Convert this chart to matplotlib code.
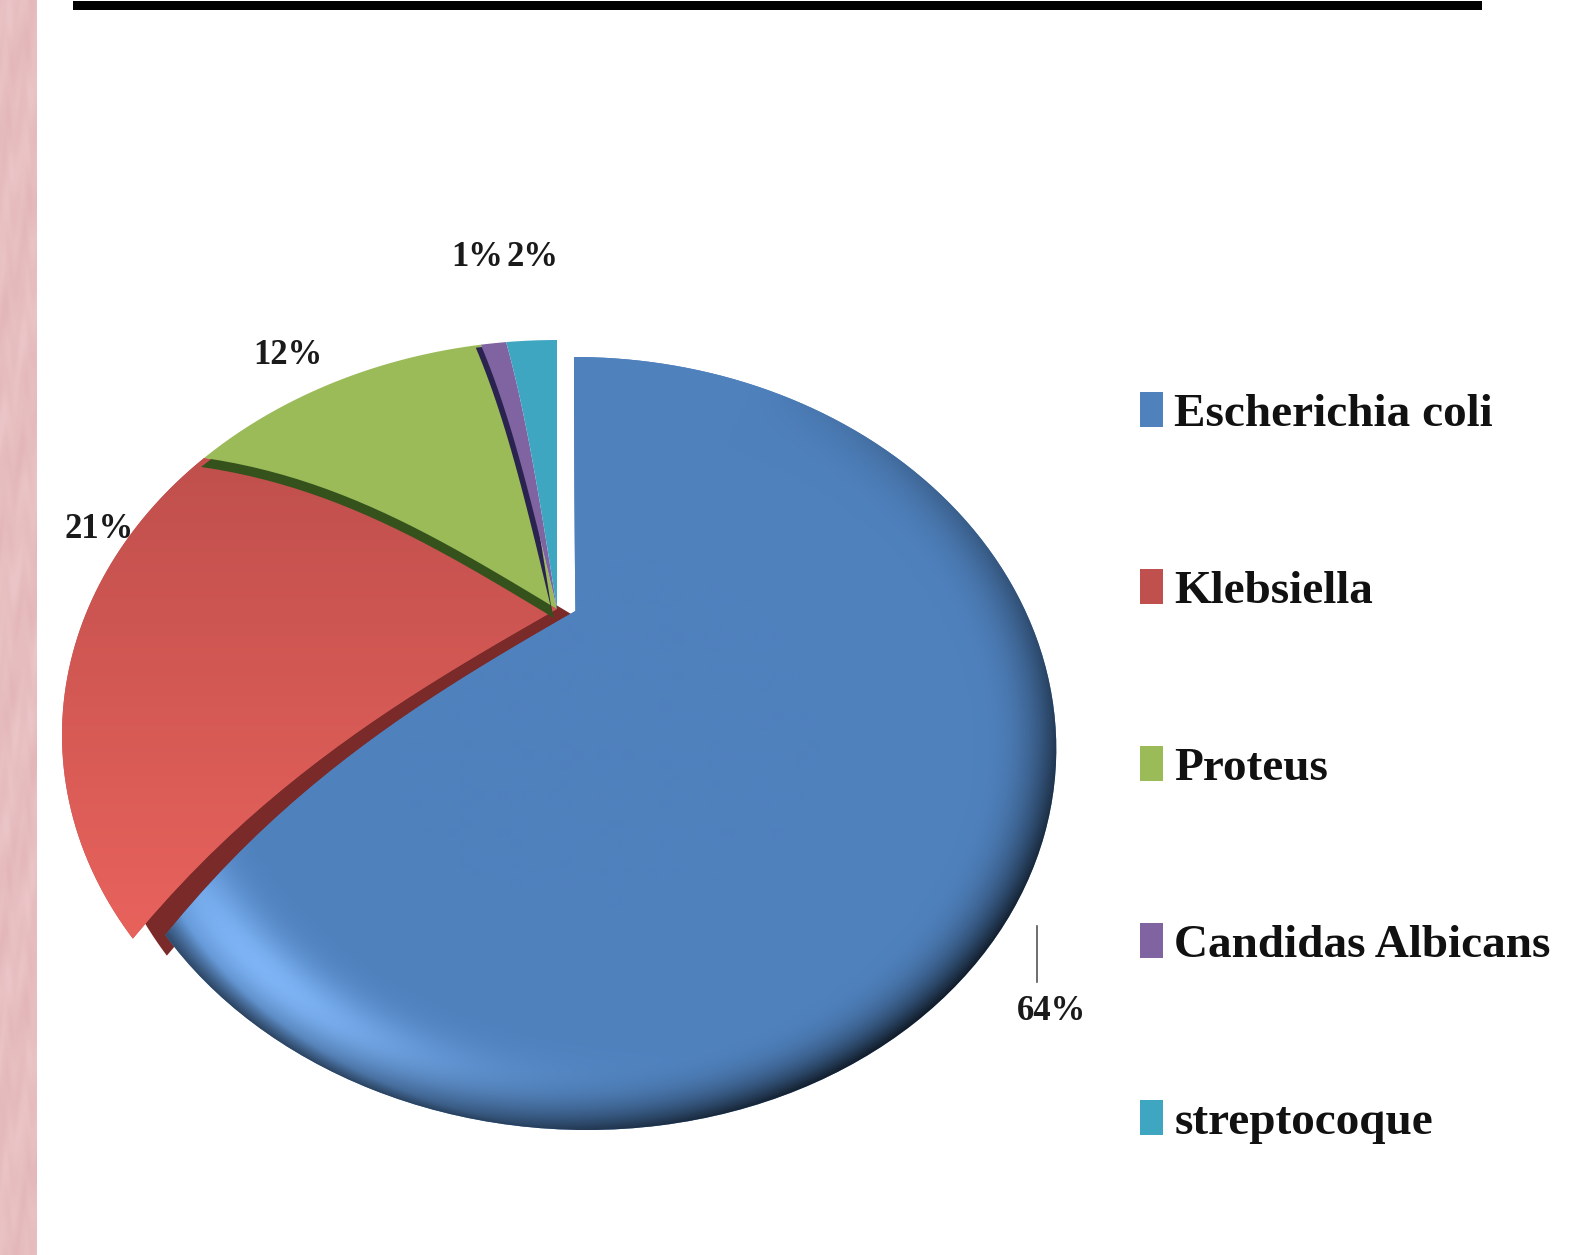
import numpy as np
import matplotlib
matplotlib.use("Agg")
import matplotlib.pyplot as plt
from matplotlib.path import Path
from matplotlib.transforms import Transform, Affine2D
from matplotlib.patches import Rectangle

categories = ["Escherichia coli", "Klebsiella", "Proteus", "Candidas Albicans", "streptocoque"]
values = [64, 21, 12, 1, 2]
colors = ["#4F81BD", "#C0504D", "#9BBB59", "#8064A2", "#3FA6C2"]
dark_colors = ["#2F4F7B", "#7A2A28", "#35521C", "#2A2350", "#2E7F96"]
value_labels = ["64%", "21%", "12%", "1%", "2%"]

W, H = 1593, 1255
plt.rcParams["font.family"] = ["Liberation Serif", "DejaVu Serif"]


class PieWarp(Transform):
    """Perspective view of the unit-circle pie, in pixel coordinates."""
    input_dims = 2
    output_dims = 2
    is_separable = False
    has_inverse = False

    def __init__(self, ox, oy, top, bottom, half, bend=0.0):
        super().__init__()
        self.ox, self.oy, self.top, self.bottom, self.bend = ox, oy, top, bottom, bend
        d1, d2 = oy - top, bottom - oy
        self.k = (d2 - d1) / (d2 + d1)
        self.b = d1 * (1 + self.k)
        self.a = half * np.sqrt(1 - self.k ** 2)

    def transform_non_affine(self, values):
        v = np.asarray(values, float)
        r = np.hypot(v[:, 0], v[:, 1])
        th = np.arctan2(v[:, 1], v[:, 0])
        th = th - 0.14 * (1.4 * r ** 2 - 0.4) * np.cos(th)
        x, y = r * np.cos(th), r * np.sin(th)
        w = 1 + self.k * y
        py = self.oy - self.b * y / w
        px = self.ox + self.a * x / w + self.bend * ((py - self.top) / (self.bottom - self.top)) ** 2
        return np.column_stack([px, py])

    def transform_path_non_affine(self, path):
        polys = path.transformed(Affine2D().scale(1000)).to_polygons(closed_only=True)
        pts = []
        for a, b in zip(polys[0][:-1] / 1000, polys[0][1:] / 1000):
            s = np.linspace(0, 1, 24, endpoint=False)[:, None]
            pts.append(a + (b - a) * s)
        pts = np.vstack(pts + [polys[0][-1:] / 1000])
        return Path(self.transform_non_affine(pts), closed=True)


fig = plt.figure(figsize=(W / 100, H / 100), dpi=100, facecolor="white")
ax = fig.add_axes([0, 0, 1, 1])

blue_view = PieWarp(574, 611, 357, 1130, 479, bend=13)
rest_view = PieWarp(557, 609, 340, 1130, 495)

# dark side walls, then faces
walls, _ = ax.pie(values, colors=dark_colors, startangle=90, counterclock=False, radius=1,
                  wedgeprops={"linewidth": 0})
faces, _ = ax.pie(values, colors=colors, startangle=90, counterclock=False, radius=1,
                  wedgeprops={"linewidth": 0})

wall_shift = {1: (34, 17), 2: (-3, 9), 3: (-5, 3)}
for i, w in enumerate(walls):
    if i in wall_shift:
        w.set_transform(rest_view + Affine2D().translate(*wall_shift[i]) + ax.transData)
    else:
        w.set_visible(False)
for i, w in enumerate(faces):
    w.set_transform((blue_view if i == 0 else rest_view) + ax.transData)

walls[1].set_zorder(2)
faces[1].set_zorder(3)
walls[2].set_zorder(4)
faces[2].set_zorder(5)
walls[3].set_zorder(6)
faces[3].set_zorder(7)
faces[4].set_zorder(7)
faces[0].set_zorder(9)

# surface shading
Y, X = np.mgrid[0:H:2, 0:W:2].astype(float)
dx, dy = (X - 582) / 478, (Y - 743) / 387
r = np.hypot(dx, dy) + 1e-6
nx, ny = dx / r, dy / r
t = np.clip((r - 0.82) / 0.18, 0, 1)
t2 = np.clip((r - 0.95) / 0.05, 0, 1)
D = np.clip(0.25 + 0.75 * (0.75 * nx + 0.65 * ny), 0, 1)
shade = np.maximum(D * t ** 2.5 * 0.78, 0.55 * t2 * np.clip(ny + 0.3, 0, 1))
base = np.array([79, 129, 189], float)
blue_img = base[None, None, :] * (1 - shade)[:, :, None]
L = np.exp(-((r - 0.89) / 0.08) ** 2) * np.exp(-((nx + 0.75) ** 2 + (ny - 0.66) ** 2) / 0.30)
blue_img = blue_img + L[:, :, None] * np.array([48, 52, 58])
im = ax.imshow(np.clip(blue_img, 0, 255) / 255, extent=(0, W, H, 0), origin="upper",
               aspect="auto", zorder=9.5, interpolation="bilinear")
im.set_clip_path(faces[0])

g = np.clip((Y - 470) / 460, 0, 1)[:, :, None]
red_img = np.array([193, 80, 77], float) * (1 - g) + np.array([232, 98, 92], float) * g
im2 = ax.imshow(red_img / 255, extent=(0, W, H, 0), origin="upper", aspect="auto",
                zorder=3.5, interpolation="bilinear")
im2.set_clip_path(faces[1])

# textured strip on the left and rule on top
yy, xx = np.mgrid[0:H:2, 0:37:1].astype(float)
tex = (np.sin(yy / 31.0 + xx / 7.0) + np.sin(yy / 53.0 - xx / 5.0) * np.cos(xx / 4.0 + yy / 17.0)
       + 0.6 * np.sin(yy / 11.0 + np.sin(xx / 3.0) * 2.0)) / 2.6
strip = np.stack([231 + 4 * tex, 190 + 8 * tex, 192 + 8 * tex], axis=2) / 255
ax.imshow(strip, extent=(0, 37, H, 0), origin="upper", aspect="auto", zorder=1, interpolation="bilinear")
ax.add_patch(Rectangle((73, 1), 1409, 9, facecolor="black", edgecolor="none", zorder=1))

# value labels
label_pos = [(1051, 1012), (99, 529), (288, 356), (477, 257), (532, 257)]
for s, (px, py) in zip(value_labels, label_pos):
    ax.text(px, py, s, ha="center", va="center", fontsize=25, fontweight="bold",
            color="#1a1a1a", zorder=12)
ax.plot([1037, 1037], [926, 982], color="#555555", lw=1.2, zorder=12)

ax.set_xlim(0, W)
ax.set_ylim(H, 0)
ax.set_aspect("auto")
ax.axis("off")

leg = ax.legend(faces, categories, loc="center left", bbox_to_anchor=(1140 / W, 1 - 768 / H),
                frameon=False, prop={"family": "Liberation Serif", "weight": "bold", "size": 34},
                labelspacing=2.82, handlelength=0.48, handleheight=0.75, handletextpad=0.25,
                borderpad=0, borderaxespad=0, labelcolor="#111111")
leg.set_zorder(12)

fig.savefig("out.png", dpi=100)
